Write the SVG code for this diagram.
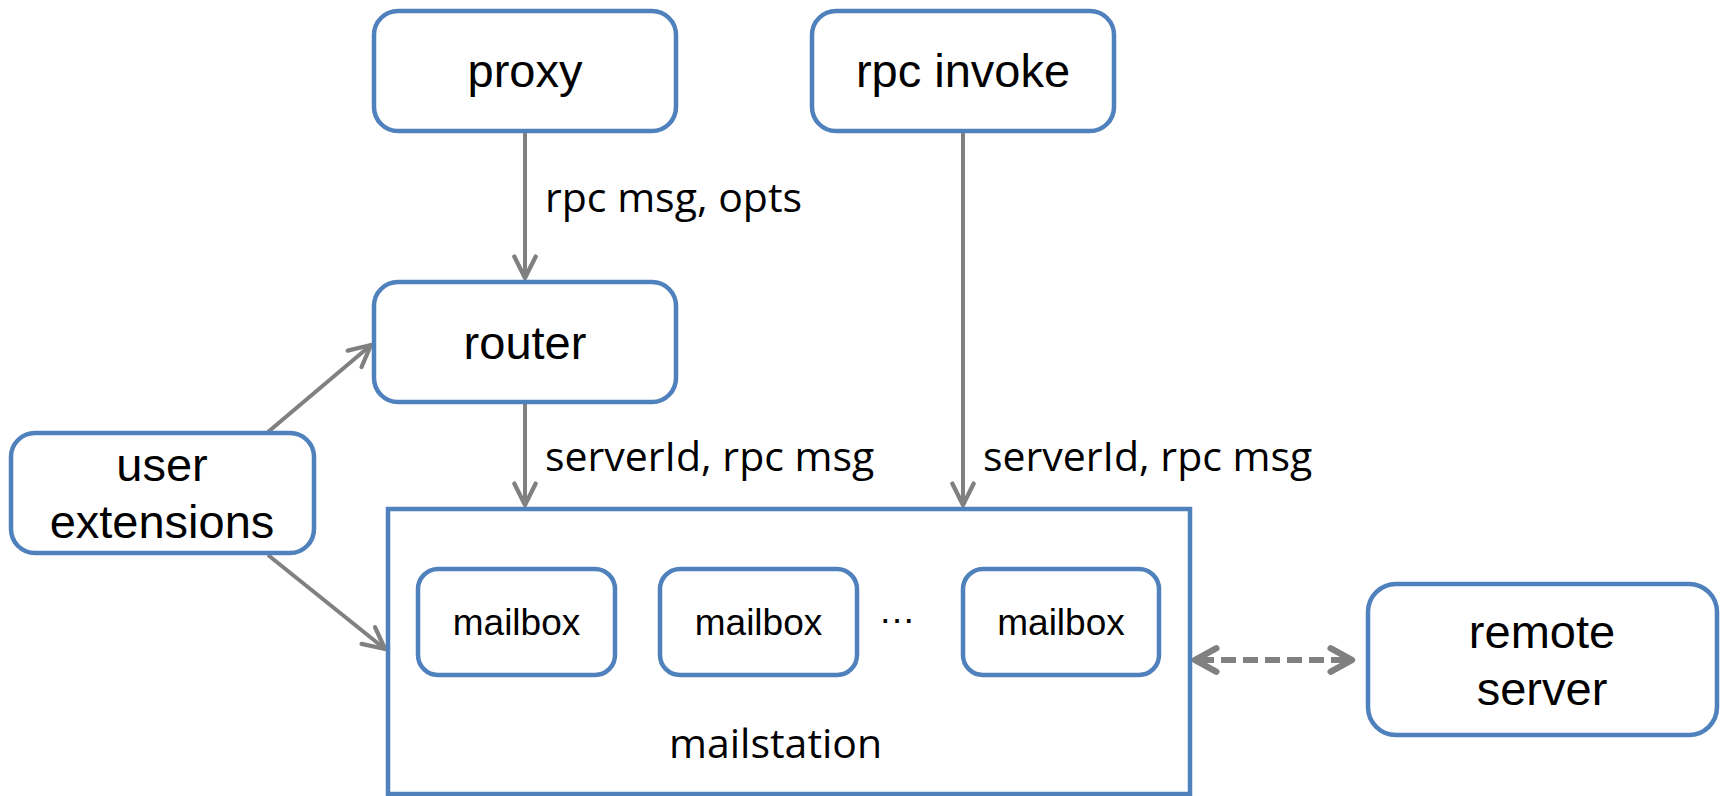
<svg xmlns="http://www.w3.org/2000/svg" width="1725" height="796" viewBox="0 0 1725 796">
<style>
.box{fill:#fff;stroke:#4F81BD;stroke-width:4.5}
.t{font-family:"Liberation Sans",Arial,sans-serif;font-size:47px;fill:#000;text-anchor:middle}
.mb{font-family:"Liberation Sans",Arial,sans-serif;font-size:37px;fill:#000;text-anchor:middle}
.lbl{font-family:"Open Sans","Noto Sans",sans-serif;font-size:41px;fill:#000}
.c{fill:none;stroke:#808080;stroke-width:4}
.d{fill:none;stroke:#808080;stroke-width:6;stroke-dasharray:15,7;stroke-dashoffset:-4}
</style>
<defs>
<marker id="arr" markerUnits="userSpaceOnUse" markerWidth="30" markerHeight="30" viewBox="-24 -13 28 26" refX="0" refY="0" orient="auto-start-reverse">
<path d="M-20,-10 L0,0 L-20,10" fill="none" stroke="#808080" stroke-width="4" stroke-linecap="round" stroke-linejoin="round"/>
</marker>
<marker id="arr2" markerUnits="userSpaceOnUse" markerWidth="32" markerHeight="32" viewBox="-26 -15 30 30" refX="0" refY="0" orient="auto-start-reverse">
<path d="M-20,-11 L0,0 L-20,11" fill="none" stroke="#808080" stroke-width="6" stroke-linecap="round" stroke-linejoin="round"/>
</marker>
</defs>
<rect width="1725" height="796" fill="#fff"/>
<g id="connectors">
<line class="c" x1="525" y1="131" x2="525" y2="278" marker-end="url(#arr)"/>
<line class="c" x1="525" y1="402" x2="525" y2="505" marker-end="url(#arr)"/>
<line class="c" x1="963" y1="131" x2="963" y2="505" marker-end="url(#arr)"/>
<line class="c" x1="268" y1="432" x2="371" y2="345" marker-end="url(#arr)"/>
<line class="c" x1="268" y1="555" x2="385" y2="649" marker-end="url(#arr)"/>
<line class="d" x1="1195" y1="660" x2="1352" y2="660" marker-start="url(#arr2)" marker-end="url(#arr2)"/>
<text class="lbl" x="545" y="212">rpc msg, opts</text>
<text class="lbl" x="545" y="471">serverId, rpc msg</text>
<text class="lbl" x="983" y="471">serverId, rpc msg</text>
</g>
<g id="mailstation">
<rect class="box" x="388" y="509" width="802" height="285"/>
<text class="lbl" x="669" y="758">mailstation</text>
</g>
<g id="proxy">
<rect class="box" x="374" y="11" width="302" height="120" rx="24"/>
<text class="t" x="525" y="87">proxy</text>
</g>
<g id="rpc-invoke">
<rect class="box" x="812" y="11" width="302" height="120" rx="24"/>
<text class="t" x="963" y="87">rpc invoke</text>
</g>
<g id="router">
<rect class="box" x="374" y="282" width="302" height="120" rx="24"/>
<text class="t" x="525" y="359">router</text>
</g>
<g id="user-extensions">
<rect class="box" x="11" y="433" width="303" height="120" rx="24"/>
<text class="t" x="162" y="481">user</text>
<text class="t" x="162" y="538">extensions</text>
</g>
<g id="mailbox1">
<rect class="box" x="418" y="569" width="197" height="106" rx="20"/>
<text class="mb" x="516.5" y="635">mailbox</text>
</g>
<g id="mailbox2">
<rect class="box" x="660" y="569" width="197" height="106" rx="20"/>
<text class="mb" x="758.5" y="635">mailbox</text>
</g>
<text id="ellipsis" class="mb" x="897" y="623">…</text>
<g id="mailbox3">
<rect class="box" x="963" y="569" width="196" height="106" rx="20"/>
<text class="mb" x="1061" y="635">mailbox</text>
</g>
<g id="remote-server">
<rect class="box" x="1368" y="584" width="349" height="151" rx="28"/>
<text class="t" x="1542" y="648">remote</text>
<text class="t" x="1542" y="705">server</text>
</g>
</svg>
